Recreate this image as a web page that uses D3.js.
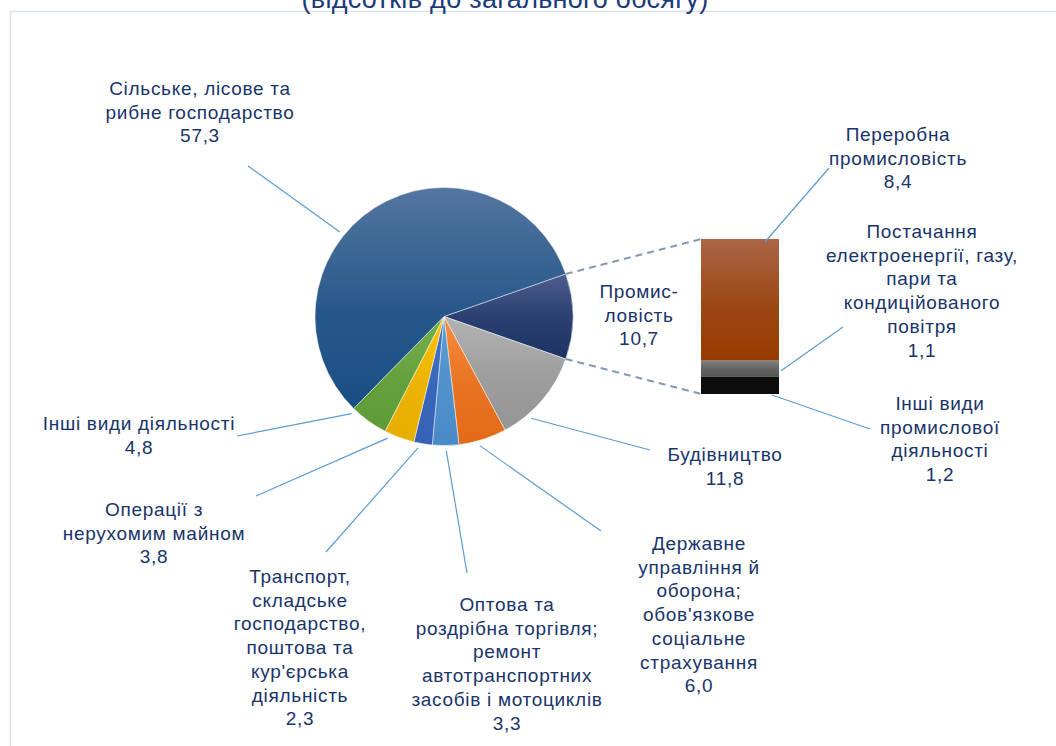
<!DOCTYPE html>
<html>
<head>
<meta charset="utf-8">
<script src="https://cdn.jsdelivr.net/npm/d3@7"></script>
<style>
  html, body { margin: 0; padding: 0; background: #fff; }
  svg { display: block; }
  text { font-family: "Liberation Sans", Arial, sans-serif; }
</style>
</head>
<body>
<svg id="chart" width="1056" height="746"></svg>
<script>
// pie slices, clockwise starting from the exploded "industry" slice
const pieNames = [
    ['Промис-', 'ловість'],
    ['Будівництво'],
    ['Державне', 'управління й', 'оборона;', "обов'язкове", 'соціальне', 'страхування'],
    ['Оптова та', 'роздрібна торгівля;', 'ремонт', 'автотранспортних', 'засобів і мотоциклів'],
    ['Транспорт,', 'складське', 'господарство,', 'поштова та', "кур'єрська", 'діяльність'],
    ['Операції з', 'нерухомим майном'],
    ['Інші види діяльності'],
    ['Сільське, лісове та', 'рибне господарство']
];
const pieValues = [10.7, 11.8, 6.0, 3.3, 2.3, 3.8, 4.8, 57.3];

// breakdown of industry (the bar)
const barNames = [
    ['Переробна', 'промисловість'],
    ['Постачання', 'електроенергії, газу,', 'пари та', 'кондиційованого', 'повітря'],
    ['Інші види', 'промислової', 'діяльності']
];
const barValues = [8.4, 1.1, 1.2];

const titleText = '(відсотків до загального обсягу)';

// colours [top, bottom] of each gradient
const pieColors = [
    ['#4c5d8c', '#1c3465'],
    ['#b3b3b3', '#959595'],
    ['#f68c40', '#e36a18'],
    ['#60a0d8', '#4a8ac6'],
    ['#4676c8', '#3561b6'],
    ['#ffc20a', '#e6ae00'],
    ['#74b04a', '#5f9c38'],
    ['#53769f', '#1a4e84']
];
const barColors = [
    ['#ab6647', '#963c00'],
    ['#808080', '#575757'],
    ['#0e0e0e', '#0b0b0b']
];

// label placement (manual, as in the original)
const pieLabelPos = [[639, 298], [725, 461], [699, 550], [507, 611], [300, 583], [154, 516], [139, 430], [200, 95]];
// [fraction of slice angle, leader end x, leader end y]; null = no leader
const pieLeaders = [null, [0.71, 650, 450], [0.59, 601, 531], [0.48, 467, 573], [0.72, 326, 552],
                    [0.83, 256, 496], [0.95, 237, 436], [0.41, 248, 166]];
const barLabelPos = [[898, 141], [922, 238], [940, 410]];

const svg = d3.select('#chart');
const defs = svg.append('defs');
const textColor = '#19346a';
const lineH = 23.7;

function addGradient(id, c) {
    let g = defs.append('linearGradient')
        .attr('id', id)
        .attr('x1', 0).attr('y1', 0).attr('x2', 0).attr('y2', 1);
    g.append('stop').attr('offset', '0%').attr('stop-color', c[0]);
    g.append('stop').attr('offset', '55%').attr('stop-color', d3.interpolateRgb(c[0], c[1])(0.75));
    g.append('stop').attr('offset', '100%').attr('stop-color', c[1]);
}
pieColors.forEach((c, i) => addGradient('pg' + i, c));
barColors.forEach((c, i) => addGradient('bg' + i, c));

// frame + title (title is clipped by the top edge, as in the source image)
svg.append('path')
    .attr('d', 'M10.5,746 L10.5,11.5 L1056,11.5')
    .attr('fill', 'none')
    .attr('stroke', '#d8dfe9')
    .attr('stroke-width', 1.5);
svg.append('text')
    .attr('x', 505).attr('y', 8)
    .attr('text-anchor', 'middle')
    .attr('font-size', 27)
    .attr('letter-spacing', 0.3)
    .attr('fill', '#1b3a7a')
    .text(titleText);

function multiLine(sel, lines, x, y) {
    let t = sel.append('text')
        .attr('text-anchor', 'middle')
        .attr('font-size', 19)
        .attr('letter-spacing', 0.7)
        .attr('fill', textColor);
    lines.forEach((s, i) => {
        t.append('tspan').attr('x', x).attr('y', y + i * lineH).text(s);
    });
    return t;
}

// pie
const cx = 444, cy = 316.5, r = 129;
const industryAngle = pieValues[0] / d3.sum(pieValues) * 2 * Math.PI;
const start = Math.PI / 2 - industryAngle / 2;
const pie = d3.pie().sort(null).value(d => d)
    .startAngle(start).endAngle(start + 2 * Math.PI);
const arcs = pie(pieValues);
const arc = d3.arc().innerRadius(0).outerRadius(r);

const pieG = svg.append('g').attr('transform', `translate(${cx},${cy})`);
pieG.selectAll('path')
    .data(arcs)
    .enter()
    .append('path')
    .attr('d', arc)
    .attr('fill', (d, i) => `url(#pg${i})`)
    .attr('stroke', '#fff')
    .attr('stroke-width', 0.8)
    .attr('stroke-opacity', 0.6);

function polar(a, rad) {
    return [cx + rad * Math.sin(a), cy - rad * Math.cos(a)];
}

// bar
const barX = 701, barW = 78, barTop = 239, barBottom = 394;
const yScale = d3.scaleLinear().domain([0, d3.sum(barValues)]).range([barTop, barBottom]);
const stack = [];
barValues.reduce((acc, v, i) => { stack.push({ i: i, y0: acc, y1: acc + v }); return acc + v; }, 0);
svg.append('g').selectAll('rect')
    .data(stack)
    .enter()
    .append('rect')
    .attr('x', barX)
    .attr('y', d => yScale(d.y0))
    .attr('width', barW)
    .attr('height', d => yScale(d.y1) - yScale(d.y0))
    .attr('fill', d => `url(#bg${d.i})`);

// dashed connectors between exploded slice and bar
const connG = svg.append('g')
    .attr('stroke', '#8598b3')
    .attr('stroke-width', 2)
    .attr('stroke-dasharray', '7,5')
    .attr('fill', 'none');
[[arcs[0].startAngle, yScale.range()[0]], [arcs[0].endAngle, yScale.range()[1]]].forEach(([a, y]) => {
    let p = polar(a, r);
    connG.append('line')
        .attr('x1', p[0]).attr('y1', p[1])
        .attr('x2', barX).attr('y2', y);
});

// leader lines
const leadG = svg.append('g')
    .attr('stroke', '#5b9bd5')
    .attr('stroke-width', 1.2);
arcs.forEach((d, i) => {
    let l = pieLeaders[i];
    if (!l) return;
    let a = d.startAngle + (d.endAngle - d.startAngle) * l[0];
    let p = polar(a, r + 5);
    leadG.append('line')
        .attr('x1', p[0]).attr('y1', p[1])
        .attr('x2', l[1]).attr('y2', l[2]);
});
const barLeaderStart = [
    [barX + barW * 0.82, yScale(stack[0].y0) + 3],
    [barX + barW + 2, (yScale(stack[1].y0) + yScale(stack[1].y1)) / 2 + 2],
    [barX + barW * 0.91, yScale(stack[2].y1) + 1]
];
const barLeaderEnd = [[829, 168], [843, 327], [870, 429]];
barLeaderStart.forEach((p, i) => {
    leadG.append('line')
        .attr('x1', p[0]).attr('y1', p[1])
        .attr('x2', barLeaderEnd[i][0]).attr('y2', barLeaderEnd[i][1]);
});

// labels
const fmt = v => v.toFixed(1).replace('.', ',');
const labG = svg.append('g');
pieNames.forEach((n, i) => {
    multiLine(labG, n.concat([fmt(pieValues[i])]), pieLabelPos[i][0], pieLabelPos[i][1]);
});
barNames.forEach((n, i) => {
    multiLine(labG, n.concat([fmt(barValues[i])]), barLabelPos[i][0], barLabelPos[i][1]);
});
</script>
</body>
</html>
